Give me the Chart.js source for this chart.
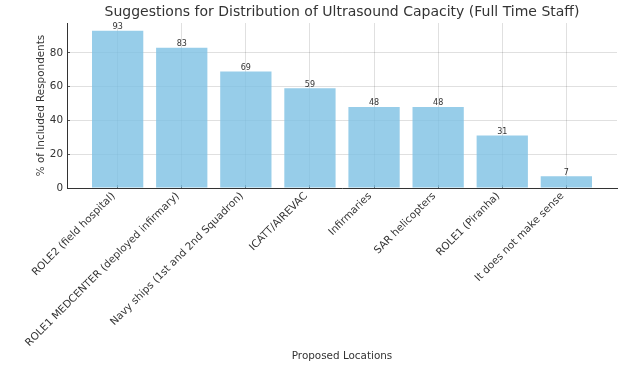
<!DOCTYPE html>
<html>
<head>
<meta charset="utf-8">
<script src="https://cdn.jsdelivr.net/npm/chart.js@4.4.1/dist/chart.umd.min.js"></script>
<style>
  html, body { margin: 0; padding: 0; background: #fff; }
  #wrap { width: 640px; height: 367px; }
</style>
</head>
<body>
<div id="wrap"><canvas id="c" width="640" height="367"></canvas></div>
<script>
const categories = [
  "ROLE2 (field hospital)",
  "ROLE1 MEDCENTER (deployed infirmary)",
  "Navy ships (1st and 2nd Squadron)",
  "ICATT/AIREVAC",
  "Infirmaries",
  "SAR helicopters",
  "ROLE1 (Piranha)",
  "It does not make sense"
];
const percentages = [93, 83, 69, 59, 48, 48, 31, 7];
const yTicks = [0, 20, 40, 60, 80];

const FONT = "'DejaVu Sans', sans-serif";
const TEXT = '#333333';

const valueLabels = {
  id: 'valueLabels',
  afterDatasetsDraw(chart) {
    const ctx = chart.ctx;
    const meta = chart.getDatasetMeta(0);
    ctx.save();
    ctx.font = '8px ' + FONT;
    ctx.fillStyle = TEXT;
    ctx.textAlign = 'center';
    ctx.textBaseline = 'alphabetic';
    meta.data.forEach((el, i) => {
      ctx.fillText(String(percentages[i]), el.x, el.y - 1.5);
    });
    ctx.restore();
  }
};

new Chart(document.getElementById('c'), {
  type: 'bar',
  data: {
    datasets: [{
      data: percentages.map((v, i) => ({ x: i, y: v })),
      backgroundColor: 'rgba(125,193,227,0.8)',
      borderWidth: 0,
      barPercentage: 0.8,
      categoryPercentage: 1.0
    }]
  },
  options: {
    responsive: false,
    devicePixelRatio: 1,
    animation: false,
    layout: { padding: { left: 0, right: 23, top: 0, bottom: 0 } },
    plugins: {
      legend: { display: false },
      tooltip: { enabled: false },
      title: {
        display: true,
        fullSize: false,
        text: 'Suggestions for Distribution of Ultrasound Capacity (Full Time Staff)',
        color: TEXT,
        font: { family: FONT, size: 14, weight: 'normal' },
        padding: { top: 4, bottom: 2.2 }
      }
    },
    scales: {
      x: {
        type: 'linear',
        min: -0.79,
        max: 7.79,
        offset: false,
        afterBuildTicks: (scale) => { scale.ticks = categories.map((_, i) => ({ value: i })); },
        afterFit: (scale) => { scale.height = 179; },
        ticks: {
          autoSkip: false,
          minRotation: 45,
          maxRotation: 45,
          padding: 5,
          labelOffset: -4,
          color: TEXT,
          font: { family: FONT, size: 10.4 },
          callback: (v) => categories[v]
        },
        grid: {
          offset: false,
          color: 'rgba(0,0,0,0.12)',
          borderDash: [3, 2],
          drawTicks: true,
          tickLength: -3,
          tickColor: '#555',
          tickBorderDash: []
        },
        border: { display: true, color: '#333', width: 1 },
        title: {
          display: true,
          text: 'Proposed Locations',
          color: TEXT,
          font: { family: FONT, size: 10.4 },
          padding: { top: 0, bottom: 4 }
        }
      },
      y: {
        min: 0,
        max: 97.65,
        afterBuildTicks: (scale) => { scale.ticks = yTicks.map(v => ({ value: v })); },
        afterFit: (scale) => { scale.width = 67; },
        ticks: {
          padding: 7,
          color: TEXT,
          font: { family: FONT, size: 10.4 }
        },
        grid: {
          color: 'rgba(0,0,0,0.12)',
          borderDash: [3, 2],
          drawTicks: true,
          tickLength: -3,
          tickColor: '#555',
          tickBorderDash: []
        },
        border: { display: true, color: '#333', width: 1 },
        title: {
          display: true,
          text: '% of Included Respondents',
          color: TEXT,
          font: { family: FONT, size: 10.4 },
          padding: { top: 35, bottom: 0 }
        }
      }
    }
  },
  plugins: [valueLabels]
});
</script>
</body>
</html>
